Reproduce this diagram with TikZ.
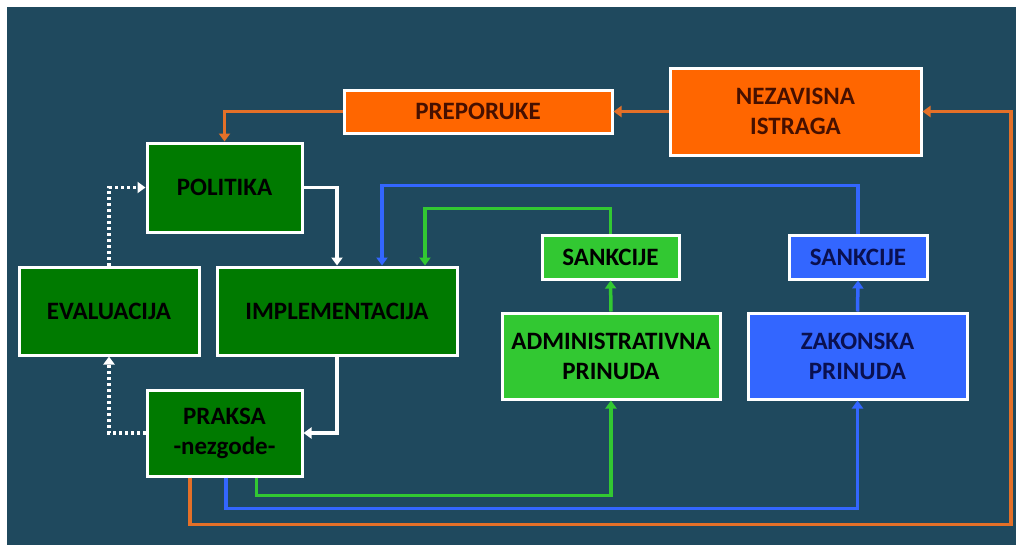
\documentclass[tikz,border=0pt]{standalone}
\usepackage{fontspec}
\setmainfont{Carlito}
\usetikzlibrary{arrows.meta}

\definecolor{bgteal}{RGB}{31,73,94}
\definecolor{darkgreen}{RGB}{0,122,0}
\definecolor{litegreen}{RGB}{50,200,50}
\definecolor{royal}{RGB}{51,102,255}
\definecolor{flame}{RGB}{255,102,0}
\definecolor{rust}{RGB}{228,112,40}
\definecolor{maroon}{RGB}{70,16,0}
\definecolor{navy}{RGB}{10,16,80}

\begin{document}
\begin{tikzpicture}[x=1pt, y=-1pt,
    box/.style={draw=white, line width=3pt, align=center, inner sep=0pt,
                font=\fontsize{25}{30}\selectfont\bfseries},
    greenbox/.style={box, fill=darkgreen, text=black},
    limebox/.style={box, fill=litegreen, text=black},
    bluebox/.style={box, fill=royal, text=navy},
    orangebox/.style={box, fill=flame, text=maroon},
    link/.style={line width=3.5pt, -{Triangle[length=8pt,width=11pt]}},
    whitelink/.style={link, white},
    dotlink/.style={link, white, dash pattern=on 3pt off 3pt},
    greenlink/.style={link, litegreen},
    bluelink/.style={link, royal},
    orangelink/.style={link, rust}]
      \useasboundingbox (0,0) rectangle (1016,544);
      \fill[bgteal] (7,7) rectangle (1030,560);

      \node[orangebox, minimum width=251, minimum height=87] (istraga)   at (795.5,111.5) {NEZAVISNA\\ISTRAGA};
      \node[orangebox, minimum width=268, minimum height=43] (preporuke) at (478,111.5)   {PREPORUKE};
      \node[greenbox,  minimum width=155, minimum height=89] (politika)  at (224.5,187.5) {POLITIKA};
      \node[greenbox,  minimum width=180, minimum height=88] (evaluacija) at (109,311)    {EVALUACIJA};
      \node[greenbox,  minimum width=240, minimum height=88] (implement) at (337,311)     {IMPLEMENTACIJA};
      \node[greenbox,  minimum width=155, minimum height=86] (praksa)    at (224.5,433)   {PRAKSA\\-nezgode-};
      \node[limebox,   minimum width=137, minimum height=44] (sankadm)   at (610.5,257)   {SANKCIJE};
      \node[bluebox,   minimum width=138, minimum height=44] (sankzak)   at (858,257)     {SANKCIJE};
      \node[limebox,   minimum width=218, minimum height=86] (admin)     at (611,356)     {ADMINISTRATIVNA\\PRINUDA};
      \node[bluebox,   minimum width=219, minimum height=86] (zakon)     at (857.5,356)   {ZAKONSKA\\PRINUDA};
      \coordinate (corner) at (1011,111.5);

      \draw[orangelink] (istraga.west) -- (preporuke.east);
      \draw[orangelink] (preporuke.west) -| (politika.north);
      \draw[whitelink] (politika.east) -| (implement.north);
      \draw[whitelink] (implement.south) |- (praksa.east);
      \draw[dotlink] (praksa.west) -| (evaluacija.south);
      \draw[dotlink] (evaluacija.north) |- (politika.west);
      \draw[bluelink] (sankzak.north) -- ++(0,-48) -| ([xshift=45pt]implement.north);
      \draw[greenlink] (sankadm.north) -- ++(0,-25) -| ([xshift=88pt]implement.north);
      \draw[greenlink] (admin.north) -- (sankadm.south);
      \draw[bluelink] (zakon.north) -- (sankzak.south);
      \draw[greenlink] ([xshift=32pt]praksa.south) -- ++(0,18) -| (admin.south);
      \draw[bluelink] ([xshift=1.5pt]praksa.south) -- ++(0,31) -| (zakon.south);
      \draw[orangelink] ([xshift=-34.5pt]praksa.south) -- ++(0,47) -| (corner) -- (istraga.east);
\end{tikzpicture}
\end{document}
